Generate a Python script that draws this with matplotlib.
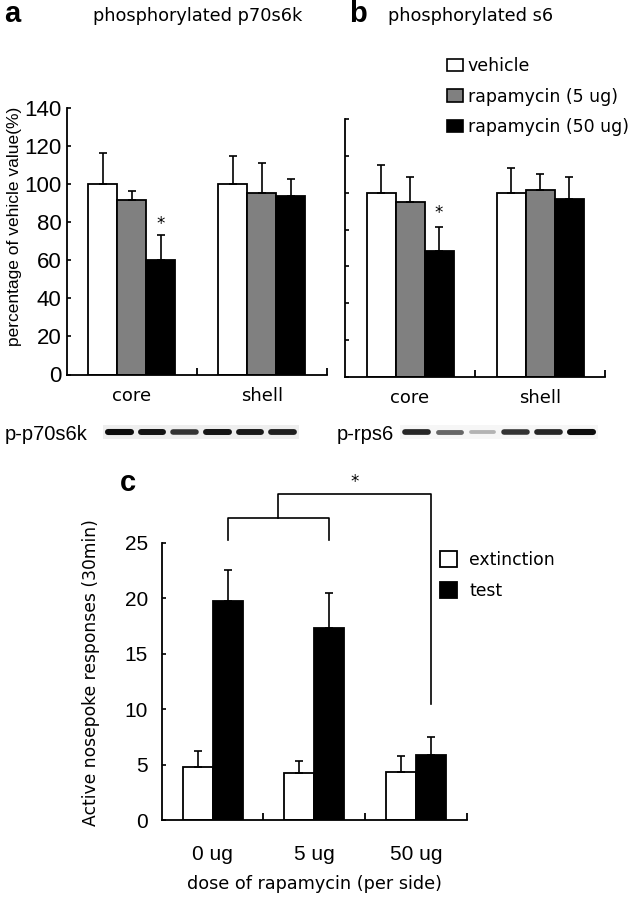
import numpy as np
import matplotlib.pyplot as plt
from matplotlib.patches import Patch

# panel a / b: phosphorylation, % of vehicle
regions = ["core", "shell"]
treatments = ["vehicle", "rapamycin (5 ug)", "rapamycin (50 ug)"]
p70_mean = [[100, 100], [91.5, 95.5], [60, 94]]
p70_sem = [[16.5, 15], [5, 15.4], [13.5, 8.8]]
s6_mean = [[100, 100], [95.2, 101.5], [68.5, 96.6]]
s6_sem = [[15, 13.3], [13.2, 8.7], [13.1, 11.8]]

# western blot band intensities (6 lanes: core x3, shell x3)
blot_p70 = [0.95, 0.92, 0.8, 0.92, 0.9, 0.88]
blot_s6 = [0.85, 0.6, 0.3, 0.8, 0.85, 0.95]

# panel c: nosepoke responses
doses = ["0 ug", "5 ug", "50 ug"]
ext_mean = [4.75, 4.2, 4.35]
ext_sem = [1.5, 1.1, 1.4]
test_mean = [19.7, 17.3, 5.85]
test_sem = [2.8, 3.2, 1.6]

W, H = 636, 899
NARROW = ["Liberation Sans Narrow", "Liberation Sans", "DejaVu Sans"]
plt.rcParams["font.family"] = ["DejaVu Sans"]


def rect(l, t, r, b):
    return [l / W, 1 - b / H, (r - l) / W, (b - t) / H]


def ftext(x, y, s, **kw):
    fig.text(x / W, 1 - y / H, s, ha="center", va="center", **kw)


def style_axis(ax, ngroups, ysize, ypad):
    for sp in ["top", "right"]:
        ax.spines[sp].set_visible(False)
    for sp in ["left", "bottom"]:
        ax.spines[sp].set_linewidth(1.3)
    ax.set_xlim(-0.5, ngroups - 0.5)
    ax.set_xticks(np.arange(ngroups) + 0.5, minor=True)
    ax.tick_params(axis="x", which="minor", direction="in", length=5, width=1.3)
    ax.tick_params(axis="x", which="major", length=0)
    ax.tick_params(axis="y", direction="in", length=3, width=1.2, pad=ypad)
    for lab in ax.get_yticklabels():
        lab.set_family(NARROW)
        lab.set_fontsize(ysize)


fig = plt.figure(figsize=(6.36, 8.99), dpi=100)

colors = ["white", "#808080", "black"]
bw = 29 / 130
for ax, means, sems, star_y in [
    (fig.add_axes(rect(67, 108, 326.7, 374.5)), p70_mean, p70_sem, 79),
    (fig.add_axes(rect(345, 119.3, 605, 376.7)), s6_mean, s6_sem, 89),
]:
    x = np.arange(len(regions))
    for i, (m, s) in enumerate(zip(means, sems)):
        xi = x + (i - 1) * bw
        ax.bar(xi, m, bw, color=colors[i], edgecolor="black", linewidth=1.3, zorder=2)
        ax.errorbar(xi, m, yerr=[np.zeros(len(m)), s], fmt="none", ecolor="black",
                    elinewidth=1.2, capsize=3, capthick=1.2, zorder=3)
    ax.text(x[0] + bw, star_y, "*", ha="center", va="center", fontsize=12)
    ax.set_ylim(0, 140)
    ax.set_yticks(np.arange(0, 141, 20))
    ax.set_xticks(x)
    ax.set_xticklabels(regions, fontsize=13)
    ax.tick_params(axis="x", which="major", pad=9)
    style_axis(ax, 2, 16, 4)
    ax_last = ax

ax_a = fig.axes[0]
ax_a.set_ylabel("percentage of vehicle value(%)", family=["Liberation Sans", "DejaVu Sans"],
                fontsize=12.5)
ax_a.yaxis.set_label_coords(-45 / 259.7, 0.557)
ax_last.set_yticklabels([])

fig.legend(handles=[Patch(facecolor=c, edgecolor="black", linewidth=1.2) for c in colors],
           labels=treatments, loc="upper left", bbox_to_anchor=(447 / W, 1 - 57 / H),
           frameon=False, fontsize=12.5, handlelength=0.95, handleheight=0.7,
           handletextpad=0.25, labelspacing=0.72, borderpad=0, borderaxespad=0)

ftext(12, 14, "a", fontsize=21, fontweight="bold", family=["Liberation Sans", "DejaVu Sans"])
ftext(198, 16, "phosphorylated p70s6k", fontsize=12.8)
ftext(358, 14, "b", fontsize=21, fontweight="bold", family=["Liberation Sans", "DejaVu Sans"])
fig.text(388 / W, 1 - 16 / H, "phosphorylated s6", ha="left", va="center", fontsize=12.8)

# blots
for l, r, lab_x, lab, vals, bg in [(103, 299, 46, "p-p70s6k", blot_p70, "#eeeeee"),
                                   (400, 598, 365, "p-rps6", blot_s6, "#f6f6f6")]:
    bx = fig.add_axes(rect(l, 423, r, 441))
    bx.set_xlim(0, len(vals))
    bx.set_ylim(0, 1)
    bx.axis("off")
    bx.axhspan(0.1, 0.9, color=bg, lw=0)
    for i, v in enumerate(vals):
        g = 1 - v
        bx.plot([i + 0.15, i + 0.85], [0.5, 0.5], color=(g, g, g),
                lw=2.0 + 2.5 * v, solid_capstyle="round")
    ftext(lab_x, 435, lab, fontsize=14.5, family=NARROW)

# panel c
ax_c = fig.add_axes(rect(161.7, 542.7, 467, 820))
xc = np.arange(len(doses))
cw = 30 / 101.8
ax_c.bar(xc - cw / 2, ext_mean, cw, color="white", edgecolor="black", linewidth=1.3,
         label="extinction", zorder=2)
ax_c.bar(xc + cw / 2, test_mean, cw, color="black", edgecolor="black", linewidth=1.3,
         label="test", zorder=2)
ax_c.errorbar(xc - cw / 2, ext_mean, yerr=[np.zeros(3), ext_sem], fmt="none",
              ecolor="black", elinewidth=1.2, capsize=3, capthick=1.2, zorder=3)
ax_c.errorbar(xc + cw / 2, test_mean, yerr=[np.zeros(3), test_sem], fmt="none",
              ecolor="black", elinewidth=1.2, capsize=3, capthick=1.2, zorder=3)
ax_c.set_ylim(0, 25)
ax_c.set_yticks(np.arange(0, 26, 5))
ax_c.set_xticks(xc)
ax_c.set_xticklabels(doses, family=NARROW, fontsize=15)
ax_c.tick_params(axis="x", which="major", pad=18)
style_axis(ax_c, 3, 15, 10)
ax_c.set_ylabel("Active nosepoke responses (30min)", fontsize=12.3)
ax_c.yaxis.set_label_coords(-62 / 305.3, 0.53)
ax_c.set_xlabel("dose of rapamycin (per side)", fontsize=12.7, labelpad=8)

# significance brackets
lo_left, lo_right = xc[0] + cw / 2, xc[1] + cw / 2
lo_mid = (lo_left + lo_right) / 2
hi_right = xc[2] + cw / 2
ax_c.plot([lo_left, lo_left, lo_right, lo_right], [25.2, 27.2, 27.2, 25.2],
          color="black", lw=1.2, clip_on=False)
ax_c.plot([lo_mid, lo_mid, hi_right, hi_right], [27.2, 29.4, 29.4, 10.5],
          color="black", lw=1.2, clip_on=False)
ax_c.text((lo_mid + hi_right) / 2, 30.5, "*", ha="center", va="center", fontsize=12)

ax_c.legend(loc="upper left", bbox_to_anchor=(440 / W, 1 - 551 / H),
            bbox_transform=fig.transFigure, frameon=False, fontsize=12.4,
            handlelength=1.0, handleheight=1.0, handletextpad=0.7,
            labelspacing=0.75, borderpad=0, borderaxespad=0)

ftext(128, 483, "c", fontsize=21, fontweight="bold", family=["Liberation Sans", "DejaVu Sans"])

fig.savefig("out.png", dpi=100)
